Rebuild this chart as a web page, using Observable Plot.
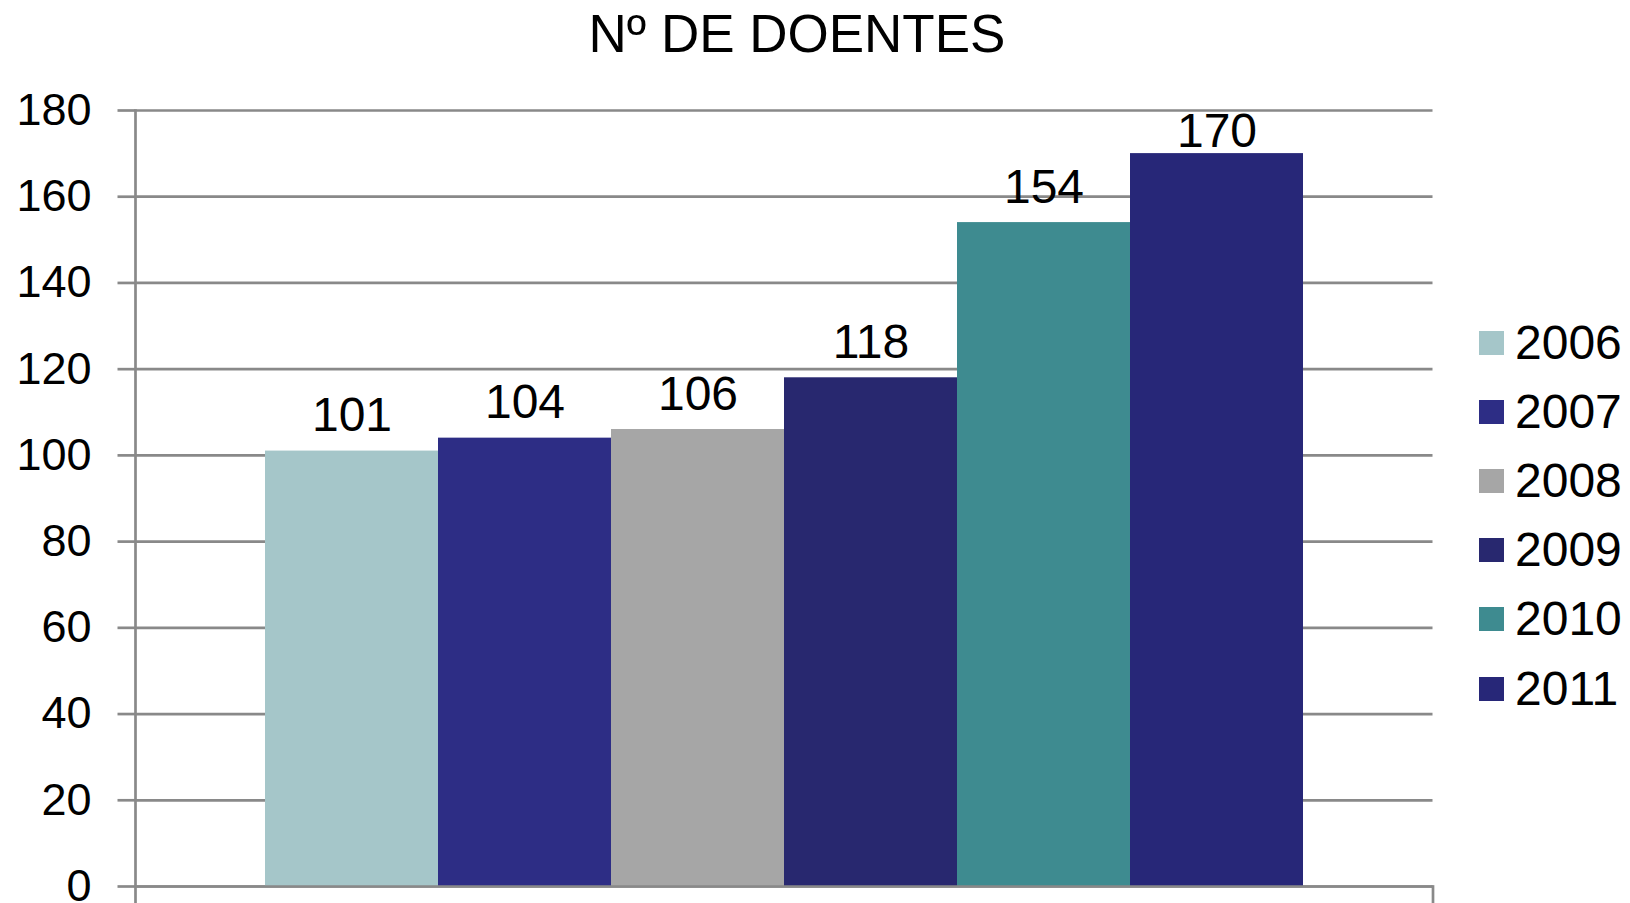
<!DOCTYPE html>
<html>
<head>
<meta charset="utf-8">
<script src="https://cdn.jsdelivr.net/npm/d3@7"></script>
<script src="https://cdn.jsdelivr.net/npm/@observablehq/plot@0.6"></script>
<style>
html, body { margin: 0; padding: 0; background: #fff; }
body { width: 1630px; height: 903px; overflow: hidden; position: relative; font-family: "Liberation Sans", Arial, sans-serif; color: #000; }
#title { height: 66px; box-sizing: border-box; padding-top: 4px; padding-right: 36px; font-size: 53px; line-height: 60px; text-align: center; }
#legend { position: absolute; left: 1479px; top: 308px; }
.row { display: flex; align-items: center; height: 69.2px; }
.sw { width: 25px; height: 24px; margin-right: 11px; }
.lab { font-size: 48px; line-height: 48px; }
</style>
</head>
<body>
<div id="title"></div>
<div id="chart"></div>
<div id="legend"></div>
<script>
const titleText = "Nº DE DOENTES";
const years = ["2006", "2007", "2008", "2009", "2010", "2011"];
const values = [101, 104, 106, 118, 154, 170];
const colors = ["#a5c6c9", "#2d2d85", "#a6a6a6", "#28286f", "#3e8b90", "#272778"];
const yTicks = [0, 20, 40, 60, 80, 100, 120, 140, 160, 180];

const data = years.map((y, i) => ({year: y, value: values[i]}));
document.getElementById("title").textContent = titleText;

const yMax = 180;
const labelRoom = 13; // labels are kept inside the plot area, as in the original
const gridColor = "#898989";
const chart = Plot.plot({
  width: 1630,
  height: 837,
  marginTop: 44,
  marginBottom: 17,
  marginLeft: 135,
  marginRight: 197.5,
  style: {fontFamily: "'Liberation Sans', Arial, sans-serif", fontSize: "45px", color: "#000", background: "transparent"},
  x: {domain: years, type: "band", paddingInner: 0, paddingOuter: 0.74, axis: null},
  y: {domain: [0, yMax], axis: null},
  color: {domain: years, range: colors},
  marks: [
    Plot.gridY(yTicks, {stroke: gridColor, strokeOpacity: 1, strokeWidth: 2.7}),
    Plot.barY(data, {x: "year", y: "value", fill: "year"}),
    Plot.axisY(yTicks, {label: null, tickSize: 17.5, tickPadding: 26.5, stroke: gridColor, strokeWidth: 2.7, fill: "#000", fontSize: 45, tickFormat: d => String(d)}),
    Plot.ruleY([0], {stroke: gridColor, strokeWidth: 2.7}),
    Plot.frame({anchor: "left", stroke: gridColor, strokeWidth: 2.7, insetBottom: -17}),
    Plot.frame({anchor: "right", stroke: gridColor, strokeWidth: 2.7, insetTop: 776, insetBottom: -17}),
    Plot.text(data, {x: "year", y: d => Math.min(d.value, yMax - labelRoom), text: d => String(d.value), lineAnchor: "bottom", dy: -20, fontSize: 48, fill: "#000"})
  ]
});
document.getElementById("chart").appendChild(chart);

const legend = document.getElementById("legend");
years.forEach((y, i) => {
  const row = document.createElement("div");
  row.className = "row";
  const sw = document.createElement("div");
  sw.className = "sw";
  sw.style.background = colors[i];
  const lab = document.createElement("div");
  lab.className = "lab";
  lab.textContent = y;
  row.appendChild(sw);
  row.appendChild(lab);
  legend.appendChild(row);
});
</script>
</body>
</html>
